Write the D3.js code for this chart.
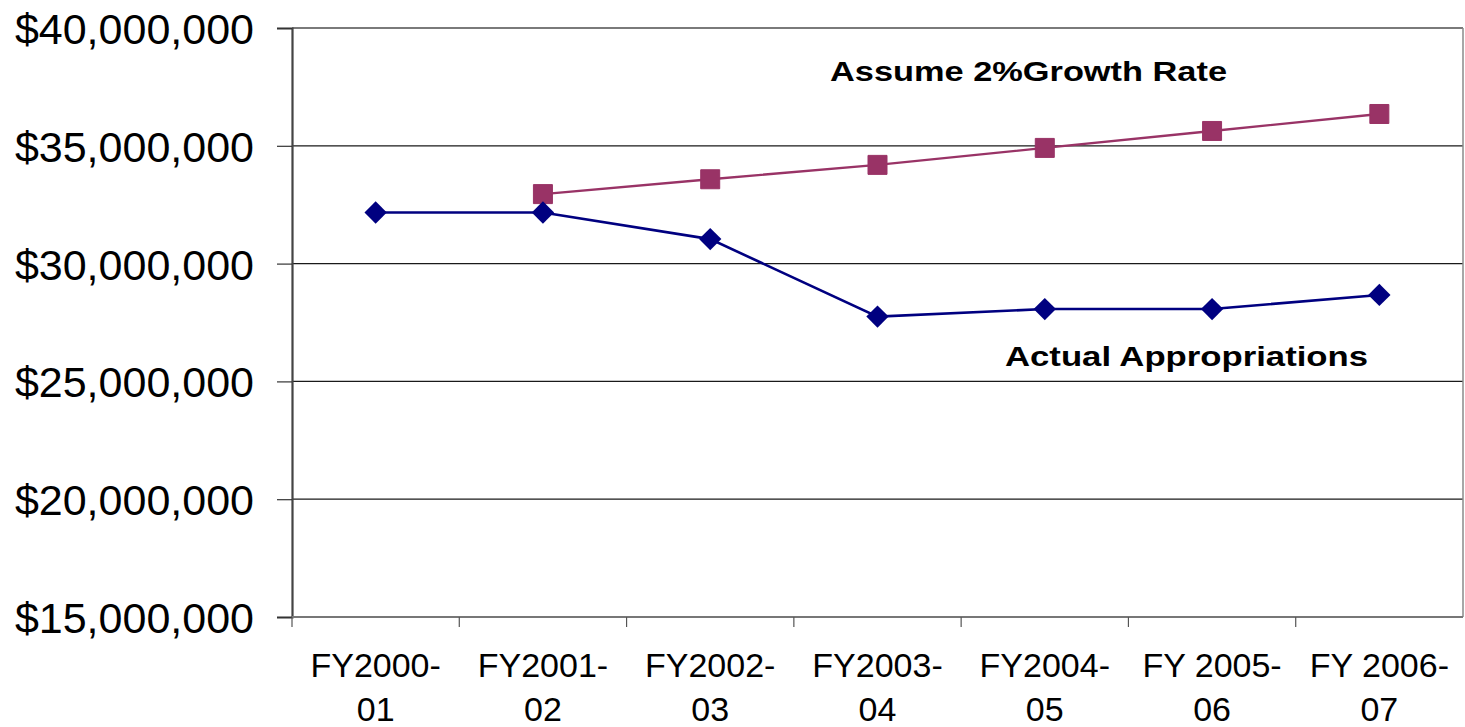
<!DOCTYPE html>
<html>
<head>
<meta charset="utf-8">
<script src="https://cdn.jsdelivr.net/npm/d3@7"></script>
<style>
  html, body { margin: 0; padding: 0; background: #fff; }
  svg { display: block; }
  text { font-family: "Liberation Sans", Arial, sans-serif; fill: #000; }
</style>
</head>
<body>
<svg id="chart" width="1465" height="727"></svg>
<script>
// Fiscal years (two-line labels) and funding series, in dollars
const categories = ["FY2000-\n01", "FY2001-\n02", "FY2002-\n03", "FY2003-\n04", "FY2004-\n05", "FY 2005-\n06", "FY 2006-\n07"];
const actualAppropriations = [32170000, 32170000, 31040000, 27750000, 28070000, 28070000, 28670000];
const assumedGrowth = [null, 32950000, 33580000, 34190000, 34910000, 35630000, 36350000];
const yTicks = [15000000, 20000000, 25000000, 30000000, 35000000, 40000000];
const seriesLabels = ["Assume 2%Growth Rate", "Actual Appropriations"];

const svg = d3.select("#chart");
const plot = { left: 292, right: 1463, top: 28, bottom: 617 };

const x = d3.scaleBand().domain(categories).range([plot.left, plot.right]).padding(0);
const y = d3.scaleLinear().domain([15000000, 40000000]).range([plot.bottom, plot.top]);
const cx = d => x(d) + x.bandwidth() / 2;

const fmt = v => "$" + d3.format(",")(v);

// Horizontal gridlines
svg.append("g")
  .selectAll("line")
  .data(yTicks.filter(t => t !== 15000000 && t !== 40000000))
  .join("line")
  .attr("x1", plot.left).attr("x2", plot.right)
  .attr("y1", d => y(d)).attr("y2", d => y(d))
  .attr("stroke", "#1a1a1a").attr("stroke-width", 1.2);

// Plot frame: top and right edges
svg.append("line")
  .attr("x1", plot.left).attr("x2", plot.right)
  .attr("y1", plot.top).attr("y2", plot.top)
  .attr("stroke", "#7a7a7a").attr("stroke-width", 2);
svg.append("line")
  .attr("x1", plot.right).attr("x2", plot.right)
  .attr("y1", plot.top).attr("y2", plot.bottom)
  .attr("stroke", "#8a8a8a").attr("stroke-width", 1.5);

// Y axis
const yAxis = d3.axisLeft(y).tickValues(yTicks).tickFormat(fmt).tickSize(15).tickPadding(23);
const gy = svg.append("g").attr("transform", `translate(${plot.left},0)`).call(yAxis);
gy.select(".domain").attr("stroke", "#444").attr("stroke-width", 2.2);
gy.selectAll(".tick line").attr("stroke", "#333").attr("stroke-width", 1.2);
gy.selectAll(".tick text")
  .attr("font-size", 43)
  .attr("font-family", "'Liberation Sans', Arial, sans-serif")
  .attr("fill", "#000")
  .attr("dy", "0.36em");

// X axis: tick marks at category boundaries
const gx = svg.append("g");
gx.append("line")
  .attr("x1", plot.left).attr("x2", plot.right)
  .attr("y1", plot.bottom).attr("y2", plot.bottom)
  .attr("stroke", "#777").attr("stroke-width", 2.2);
gx.selectAll("line.bound")
  .data(categories)
  .join("line")
  .attr("class", "bound")
  .attr("x1", d => x(d)).attr("x2", d => x(d))
  .attr("y1", plot.bottom).attr("y2", plot.bottom + 10)
  .attr("stroke", "#555").attr("stroke-width", 1.2);

// X labels, two lines each
const xl = gx.selectAll("text.cat")
  .data(categories)
  .join("text")
  .attr("class", "cat")
  .attr("text-anchor", "middle")
  .attr("font-size", 34);
xl.each(function(d) {
  const lines = d.split("\n");
  const t = d3.select(this);
  lines.forEach((ln, i) => {
    t.append("tspan")
      .attr("x", cx(d))
      .attr("y", 677 + i * 44)
      .text(ln);
  });
});

// Lines
const line = d3.line()
  .defined(v => v !== null)
  .x((v, i) => cx(categories[i]))
  .y(v => y(v));

svg.append("path")
  .datum(assumedGrowth)
  .attr("fill", "none")
  .attr("stroke", "#993366")
  .attr("stroke-width", 2.4)
  .attr("d", line);

svg.append("path")
  .datum(actualAppropriations)
  .attr("fill", "none")
  .attr("stroke", "#000080")
  .attr("stroke-width", 2.6)
  .attr("d", line);

// Markers
const squareSym = d3.symbol().type(d3.symbolSquare).size(19 * 19);
svg.append("g")
  .selectAll("path")
  .data(assumedGrowth.map((v, i) => ({ v, c: categories[i] })).filter(d => d.v !== null))
  .join("path")
  .attr("transform", d => `translate(${cx(d.c)},${y(d.v)})`)
  .attr("d", squareSym)
  .attr("fill", "#993366")
  .attr("stroke", "#993366")
  .attr("stroke-width", 1)
  .attr("stroke-linejoin", "round");

const diamondSym = d3.symbol().type(d3.symbolSquare).size(15.8 * 15.8);
svg.append("g")
  .selectAll("path")
  .data(actualAppropriations.map((v, i) => ({ v, c: categories[i] })))
  .join("path")
  .attr("transform", d => `translate(${cx(d.c)},${y(d.v)}) rotate(45)`)
  .attr("d", diamondSym)
  .attr("fill", "#000080");

// Series annotations
svg.append("text")
  .attr("x", 830).attr("y", 81)
  .attr("font-size", 27).attr("font-weight", "bold")
  .attr("textLength", 397).attr("lengthAdjust", "spacingAndGlyphs")
  .text(seriesLabels[0]);

svg.append("text")
  .attr("x", 1005).attr("y", 366)
  .attr("font-size", 27).attr("font-weight", "bold")
  .attr("textLength", 363).attr("lengthAdjust", "spacingAndGlyphs")
  .text(seriesLabels[1]);
</script>
</body>
</html>
